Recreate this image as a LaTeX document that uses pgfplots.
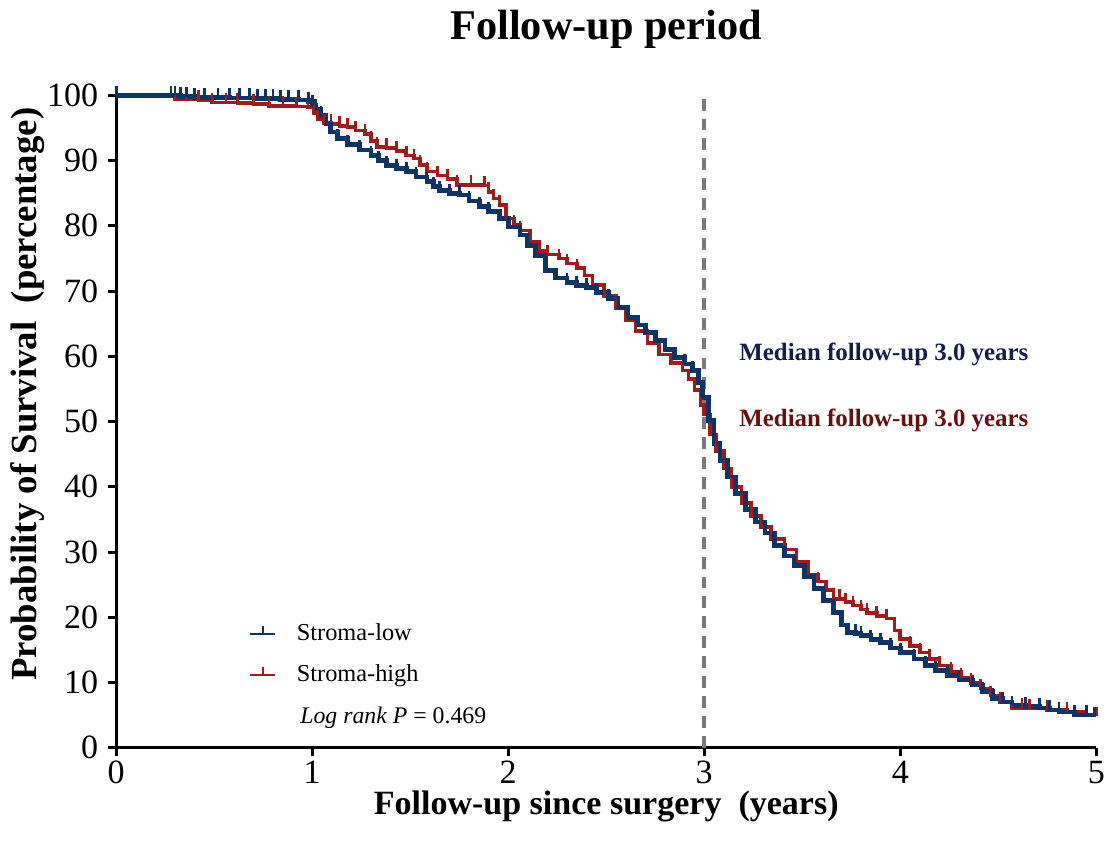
\documentclass[border=0pt]{standalone}
\usepackage{fontspec}
\setmainfont{Liberation Serif}
\usepackage{pgfplots}
\usepackage{pgfplotstable}
\pgfplotsset{compat=1.18}
\definecolor{navyc}{HTML}{0D3466}
\definecolor{redc}{HTML}{A11B1B}
\definecolor{navytxt}{HTML}{141E46}
\definecolor{redtxt}{HTML}{6B0D0D}
\definecolor{dashc}{HTML}{7A7A7A}
\pgfdeclareplotmark{cens}{\pgfpathmoveto{\pgfpointorigin}\pgfpathlineto{\pgfqpoint{0pt}{\pgfplotmarksize}}\pgfusepathqstroke}

\pgfplotstableread{
x y
0 100
0.28 100
0.30 100
0.33 99.8
0.36 99.8
0.40 99.7
0.45 99.7
0.52 99.7
0.58 99.6
0.63 99.6
0.68 99.6
0.72 99.5
0.76 99.5
0.80 99.5
0.84 99.4
0.88 99.4
0.93 99.3
0.98 99.0
1.00 98.5
1.02 97.9
1.045 96.9
1.07 95.6
1.095 94.4
1.13 93.4
1.18 92.5
1.24 91.6
1.30 90.8
1.34 90.0
1.38 89.2
1.43 88.8
1.48 88.3
1.53 87.5
1.585 86.8
1.62 86.0
1.65 85.4
1.70 85.0
1.75 84.7
1.80 83.8
1.855 83.0
1.90 82.2
1.955 81.1
2.00 79.8
2.06 78.6
2.10 77.0
2.14 75.5
2.19 73.2
2.24 72.0
2.30 71.3
2.35 70.8
2.40 70.5
2.45 69.8
2.51 68.9
2.56 67.5
2.61 65.9
2.66 64.8
2.70 63.6
2.75 62.4
2.80 61.0
2.85 59.8
2.90 58.8
2.94 57.8
2.97 56.0
2.99 53.7
3.02 50.2
3.05 46.6
3.08 44.0
3.12 41.5
3.16 39.0
3.21 36.5
3.26 34.6
3.31 32.9
3.36 31.0
3.41 29.4
3.46 27.9
3.51 26.2
3.56 24.4
3.61 22.6
3.66 20.7
3.70 18.8
3.73 17.7
3.77 17.5
3.80 17.2
3.85 16.6
3.90 16.1
3.95 15.3
4.00 14.6
4.07 13.6
4.13 12.6
4.18 11.8
4.24 11.1
4.30 10.4
4.37 9.6
4.42 8.6
4.47 7.6
4.52 7.0
4.57 6.5
4.64 6.3
4.71 6.1
4.76 5.8
4.81 5.5
4.89 5.0
4.95 5.0
4.99 4.8
}\lowtab

\pgfplotstableread{
x y
0 100
0.30 99.4
0.36 99.4
0.42 99.3
0.49 98.9
0.56 98.9
0.62 98.8
0.70 98.7
0.78 98.4
0.85 98.4
0.92 98.3
0.98 98.2
1.01 97.3
1.03 96.3
1.06 95.8
1.095 95.6
1.14 95.3
1.18 95.1
1.22 94.6
1.27 94.1
1.30 93.0
1.33 92.1
1.38 91.9
1.43 91.5
1.48 90.8
1.52 90.3
1.55 89.3
1.585 88.3
1.64 87.7
1.69 87.2
1.74 86.3
1.81 86.3
1.88 86.2
1.90 85.2
1.925 84.2
1.955 83.2
1.99 81.1
2.03 80.1
2.06 79.3
2.11 77.6
2.16 76.1
2.20 75.6
2.26 75.0
2.30 74.2
2.35 73.5
2.39 72.4
2.43 70.9
2.49 69.2
2.55 67.4
2.60 65.6
2.65 63.9
2.71 62.0
2.77 60.3
2.83 59.0
2.89 57.8
2.92 56.5
2.95 54.8
2.98 52.5
3.00 51.1
3.03 48.0
3.06 45.5
3.10 42.8
3.14 40.0
3.19 37.5
3.24 35.5
3.29 33.8
3.34 32.0
3.41 30.4
3.47 28.5
3.53 26.5
3.58 25.5
3.62 24.2
3.66 22.8
3.69 22.8
3.72 22.3
3.76 21.8
3.80 21.2
3.83 20.7
3.88 20.2
3.93 19.8
3.97 18.0
4.00 16.7
4.05 15.6
4.10 14.6
4.15 13.6
4.20 12.6
4.26 11.6
4.31 10.7
4.36 9.9
4.41 9.1
4.46 8.0
4.51 7.0
4.57 6.1
4.62 6.1
4.66 6.0
4.75 5.8
4.85 5.5
4.95 5.0
5.00 4.8
}\hightab

\begin{document}
\begin{tikzpicture}
\begin{axis}[
  scale only axis,
  width=354.4pt, height=235.9pt,
  xmin=0, xmax=5, ymin=0, ymax=100,
  axis lines=left,
  axis line style={-, line width=1.1pt, black},
  xtick={0,1,2,3,4,5},
  ytick={0,10,20,30,40,50,60,70,80,90,100},
  tick align=outside,
  major tick length=3pt,
  tick style={line width=1.1pt, black},
  /pgf/number format/assume math mode=true,
  ticklabel style={font=\fontsize{12.3}{14}\selectfont},
  xticklabel style={yshift=1.8pt},
  clip=false,
  xlabel={Follow-up since surgery\ \ (years)},
  ylabel={Probability of Survival\ \ (percentage)},
  xlabel style={at={(rel axis cs:0.5,-0.090)}, anchor=center, font=\fontsize{12.3}{14}\selectfont\bfseries},
  ylabel style={at={(rel axis cs:-0.090,0.542)}, anchor=center, font=\fontsize{13.3}{15}\selectfont\bfseries},
  legend style={at={(rel axis cs:0.135,0.200)}, anchor=north west, draw=none, fill=none,
    font=\fontsize{8.8}{10}\selectfont, row sep=3.2pt, column sep=5.4pt, inner sep=0pt},
  legend cell align=left,
  legend image code/.code={\draw[mark repeat=2,mark phase=2] plot coordinates {(0cm,0cm) (0.16cm,0cm) (0.32cm,0cm)};},
]
\path (rel axis cs:-0.1185,-0.1522) rectangle (rel axis cs:1.0101,1.1461);

\addplot[forget plot, dashc, line width=1.5pt, dash pattern=on 4.3pt off 2.9pt] coordinates {(3,0) (3,100)};

\addplot[forget plot, const plot, redc, line width=1.3pt, mark=cens, mark size=3.5pt, mark options={line width=0.9pt}] table {\hightab};
\addplot[forget plot, const plot, navyc, line width=1.7pt, mark=cens, mark size=3.5pt, mark options={line width=1pt}] table {\lowtab};

\addlegendimage{navyc, line width=0.8pt, mark=cens, mark size=3pt, mark options={line width=0.7pt}}
\addlegendentry{Stroma-low}
\addlegendimage{redc, line width=0.8pt, mark=cens, mark size=3pt, mark options={line width=0.7pt}}
\addlegendentry{Stroma-high}

\node[anchor=center, font=\fontsize{15.3}{18}\selectfont\bfseries] at (rel axis cs:0.5,1.1005) {Follow-up period};
\node[anchor=west, font=\fontsize{9}{11}\selectfont\bfseries, text=navytxt, inner sep=0pt] at (rel axis cs:0.6353,0.6028) {Median follow-up 3.0 years};
\node[anchor=west, font=\fontsize{9}{11}\selectfont\bfseries, text=redtxt, inner sep=0pt] at (rel axis cs:0.6353,0.5023) {Median follow-up 3.0 years};
\node[anchor=west, font=\fontsize{8.6}{10}\selectfont, inner sep=0pt] at (rel axis cs:0.1874,0.046) {\textit{Log rank P} = 0.469};
\end{axis}
\end{tikzpicture}
\end{document}
